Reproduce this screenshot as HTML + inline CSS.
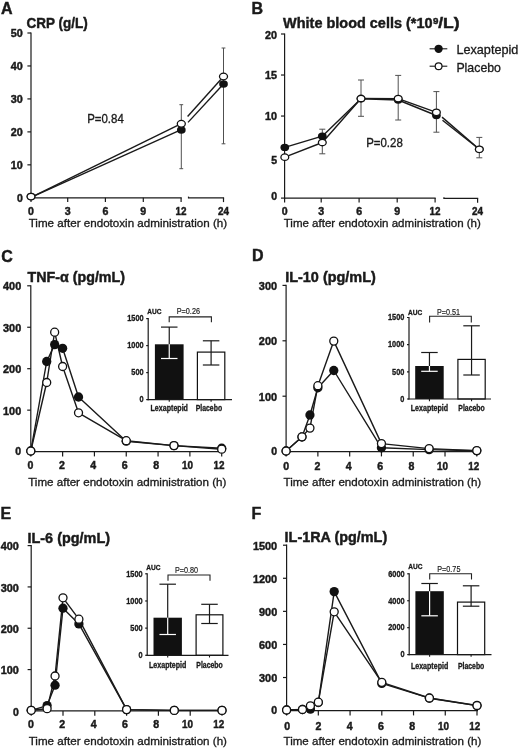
<!DOCTYPE html>
<html><head><meta charset="utf-8"><style>
html,body{margin:0;padding:0;background:#fff;}
svg{display:block;filter:grayscale(1);}
text{font-family:"Liberation Sans",sans-serif;}
</style></head><body>
<svg width="520" height="748" viewBox="0 0 520 748" font-family="Liberation Sans, sans-serif" fill="#1a1a1a">
<rect width="520" height="748" fill="#fff"/>
<text x="1.00" y="13.80" font-size="16" font-weight="bold" stroke="#1a1a1a" stroke-width="0.45">A</text>
<text x="26.60" y="28.20" font-size="14.6" font-weight="bold" textLength="61.20" lengthAdjust="spacingAndGlyphs" stroke="#1a1a1a" stroke-width="0.45">CRP (g/L)</text>
<line x1="31.00" y1="32.40" x2="31.00" y2="198.40" stroke="#1a1a1a" stroke-width="1.2"/>
<line x1="27.40" y1="197.80" x2="31.00" y2="197.80" stroke="#1a1a1a" stroke-width="1.2"/>
<text x="22.80" y="201.60" font-size="10.6" font-weight="bold" text-anchor="end" textLength="5.85" lengthAdjust="spacingAndGlyphs" stroke="#1a1a1a" stroke-width="0.45">0</text>
<line x1="27.40" y1="164.84" x2="31.00" y2="164.84" stroke="#1a1a1a" stroke-width="1.2"/>
<text x="22.80" y="168.64" font-size="10.6" font-weight="bold" text-anchor="end" textLength="12.00" lengthAdjust="spacingAndGlyphs" stroke="#1a1a1a" stroke-width="0.45">10</text>
<line x1="27.40" y1="131.88" x2="31.00" y2="131.88" stroke="#1a1a1a" stroke-width="1.2"/>
<text x="22.80" y="135.68" font-size="10.6" font-weight="bold" text-anchor="end" textLength="12.00" lengthAdjust="spacingAndGlyphs" stroke="#1a1a1a" stroke-width="0.45">20</text>
<line x1="27.40" y1="98.92" x2="31.00" y2="98.92" stroke="#1a1a1a" stroke-width="1.2"/>
<text x="22.80" y="102.72" font-size="10.6" font-weight="bold" text-anchor="end" textLength="12.00" lengthAdjust="spacingAndGlyphs" stroke="#1a1a1a" stroke-width="0.45">30</text>
<line x1="27.40" y1="65.96" x2="31.00" y2="65.96" stroke="#1a1a1a" stroke-width="1.2"/>
<text x="22.80" y="69.76" font-size="10.6" font-weight="bold" text-anchor="end" textLength="12.00" lengthAdjust="spacingAndGlyphs" stroke="#1a1a1a" stroke-width="0.45">40</text>
<line x1="27.40" y1="33.00" x2="31.00" y2="33.00" stroke="#1a1a1a" stroke-width="1.2"/>
<text x="22.80" y="36.80" font-size="10.6" font-weight="bold" text-anchor="end" textLength="12.00" lengthAdjust="spacingAndGlyphs" stroke="#1a1a1a" stroke-width="0.45">50</text>
<line x1="30.40" y1="197.80" x2="181.70" y2="197.80" stroke="#1a1a1a" stroke-width="1.2"/>
<line x1="31.00" y1="197.80" x2="31.00" y2="202.10" stroke="#1a1a1a" stroke-width="1.2"/>
<text x="31.00" y="214.60" font-size="10.6" font-weight="bold" text-anchor="middle" textLength="5.90" lengthAdjust="spacingAndGlyphs" stroke="#1a1a1a" stroke-width="0.45">0</text>
<line x1="67.70" y1="197.80" x2="67.70" y2="202.10" stroke="#1a1a1a" stroke-width="1.2"/>
<text x="67.70" y="214.60" font-size="10.6" font-weight="bold" text-anchor="middle" textLength="5.90" lengthAdjust="spacingAndGlyphs" stroke="#1a1a1a" stroke-width="0.45">3</text>
<line x1="105.40" y1="197.80" x2="105.40" y2="202.10" stroke="#1a1a1a" stroke-width="1.2"/>
<text x="105.40" y="214.60" font-size="10.6" font-weight="bold" text-anchor="middle" textLength="5.90" lengthAdjust="spacingAndGlyphs" stroke="#1a1a1a" stroke-width="0.45">6</text>
<line x1="143.30" y1="197.80" x2="143.30" y2="202.10" stroke="#1a1a1a" stroke-width="1.2"/>
<text x="143.30" y="214.60" font-size="10.6" font-weight="bold" text-anchor="middle" textLength="5.90" lengthAdjust="spacingAndGlyphs" stroke="#1a1a1a" stroke-width="0.45">9</text>
<line x1="181.10" y1="197.80" x2="181.10" y2="202.10" stroke="#1a1a1a" stroke-width="1.2"/>
<text x="181.10" y="214.60" font-size="10.6" font-weight="bold" text-anchor="middle" textLength="11.00" lengthAdjust="spacingAndGlyphs" stroke="#1a1a1a" stroke-width="0.45">12</text>
<line x1="188.50" y1="197.80" x2="224.10" y2="197.80" stroke="#1a1a1a" stroke-width="1.2"/>
<line x1="188.50" y1="196.60" x2="188.50" y2="198.40" stroke="#1a1a1a" stroke-width="1.2"/>
<line x1="223.50" y1="197.80" x2="223.50" y2="202.10" stroke="#1a1a1a" stroke-width="1.2"/>
<text x="223.50" y="214.60" font-size="10.6" font-weight="bold" text-anchor="middle" textLength="11.00" lengthAdjust="spacingAndGlyphs" stroke="#1a1a1a" stroke-width="0.45">24</text>
<text x="28.70" y="227.10" font-size="11.5" textLength="198.40" lengthAdjust="spacingAndGlyphs" stroke="#1a1a1a" stroke-width="0.32">Time after endotoxin administration (h)</text>
<text x="87.20" y="122.80" font-size="12" textLength="36.60" lengthAdjust="spacingAndGlyphs" stroke="#1a1a1a" stroke-width="0.32">P=0.84</text>
<line x1="181.30" y1="104.70" x2="181.30" y2="168.70" stroke="#505050" stroke-width="1.0"/>
<line x1="179.40" y1="104.70" x2="183.20" y2="104.70" stroke="#505050" stroke-width="1.0"/>
<line x1="179.40" y1="168.70" x2="183.20" y2="168.70" stroke="#505050" stroke-width="1.0"/>
<line x1="223.50" y1="48.00" x2="223.50" y2="143.80" stroke="#505050" stroke-width="1.0"/>
<line x1="221.60" y1="48.00" x2="225.40" y2="48.00" stroke="#505050" stroke-width="1.0"/>
<line x1="221.60" y1="143.80" x2="225.40" y2="143.80" stroke="#505050" stroke-width="1.0"/>
<polyline points="31.00,197.30 181.30,129.60" fill="none" stroke="#1a1a1a" stroke-width="1.4" stroke-linejoin="round"/>
<polyline points="31.00,197.30 181.30,123.60" fill="none" stroke="#1a1a1a" stroke-width="1.4" stroke-linejoin="round"/>
<polyline points="188.00,122.38 223.50,84.10" fill="none" stroke="#1a1a1a" stroke-width="1.4" stroke-linejoin="round"/>
<polyline points="187.60,116.57 223.50,76.50" fill="none" stroke="#1a1a1a" stroke-width="1.4" stroke-linejoin="round"/>
<ellipse cx="31.00" cy="196.60" rx="4.35" ry="3.75" fill="#111"/>
<ellipse cx="181.30" cy="130.00" rx="4.35" ry="3.75" fill="#111"/>
<ellipse cx="223.50" cy="84.10" rx="4.35" ry="3.75" fill="#111"/>
<ellipse cx="31.00" cy="196.60" rx="3.90" ry="3.30" fill="#fff" stroke="#111" stroke-width="1.3"/>
<ellipse cx="181.30" cy="123.80" rx="4.00" ry="3.35" fill="#fff" stroke="#111" stroke-width="1.3"/>
<ellipse cx="223.50" cy="76.50" rx="4.00" ry="3.35" fill="#fff" stroke="#111" stroke-width="1.3"/>
<text x="251.40" y="13.60" font-size="16" font-weight="bold" stroke="#1a1a1a" stroke-width="0.45">B</text>
<text x="283.10" y="28.00" font-size="14.6" font-weight="bold" textLength="149.40" lengthAdjust="spacingAndGlyphs" stroke="#1a1a1a" stroke-width="0.45">White blood cells (*10</text>
<text x="433.10" y="24.00" font-size="9.6" font-weight="bold" textLength="5.40" lengthAdjust="spacingAndGlyphs" stroke="#1a1a1a" stroke-width="0.45">9</text>
<text x="438.20" y="28.00" font-size="14.6" font-weight="bold" textLength="21.40" lengthAdjust="spacingAndGlyphs" stroke="#1a1a1a" stroke-width="0.45">/L)</text>
<line x1="284.60" y1="33.40" x2="284.60" y2="198.70" stroke="#1a1a1a" stroke-width="1.2"/>
<line x1="281.00" y1="198.10" x2="284.60" y2="198.10" stroke="#1a1a1a" stroke-width="1.2"/>
<text x="277.10" y="200.20" font-size="10.6" font-weight="bold" text-anchor="end" textLength="5.85" lengthAdjust="spacingAndGlyphs" stroke="#1a1a1a" stroke-width="0.45">0</text>
<line x1="281.00" y1="157.07" x2="284.60" y2="157.07" stroke="#1a1a1a" stroke-width="1.2"/>
<text x="277.10" y="164.47" font-size="10.6" font-weight="bold" text-anchor="end" textLength="5.85" lengthAdjust="spacingAndGlyphs" stroke="#1a1a1a" stroke-width="0.45">5</text>
<line x1="281.00" y1="116.05" x2="284.60" y2="116.05" stroke="#1a1a1a" stroke-width="1.2"/>
<text x="277.10" y="119.85" font-size="10.6" font-weight="bold" text-anchor="end" textLength="12.00" lengthAdjust="spacingAndGlyphs" stroke="#1a1a1a" stroke-width="0.45">10</text>
<line x1="281.00" y1="75.02" x2="284.60" y2="75.02" stroke="#1a1a1a" stroke-width="1.2"/>
<text x="277.10" y="78.82" font-size="10.6" font-weight="bold" text-anchor="end" textLength="12.00" lengthAdjust="spacingAndGlyphs" stroke="#1a1a1a" stroke-width="0.45">15</text>
<line x1="281.00" y1="34.00" x2="284.60" y2="34.00" stroke="#1a1a1a" stroke-width="1.2"/>
<text x="277.10" y="38.50" font-size="10.6" font-weight="bold" text-anchor="end" textLength="12.00" lengthAdjust="spacingAndGlyphs" stroke="#1a1a1a" stroke-width="0.45">20</text>
<line x1="284.00" y1="198.10" x2="435.70" y2="198.10" stroke="#1a1a1a" stroke-width="1.2"/>
<line x1="284.60" y1="198.10" x2="284.60" y2="202.40" stroke="#1a1a1a" stroke-width="1.2"/>
<text x="284.60" y="214.60" font-size="10.6" font-weight="bold" text-anchor="middle" textLength="5.90" lengthAdjust="spacingAndGlyphs" stroke="#1a1a1a" stroke-width="0.45">0</text>
<line x1="321.20" y1="198.10" x2="321.20" y2="202.40" stroke="#1a1a1a" stroke-width="1.2"/>
<text x="321.20" y="214.60" font-size="10.6" font-weight="bold" text-anchor="middle" textLength="5.90" lengthAdjust="spacingAndGlyphs" stroke="#1a1a1a" stroke-width="0.45">3</text>
<line x1="359.10" y1="198.10" x2="359.10" y2="202.40" stroke="#1a1a1a" stroke-width="1.2"/>
<text x="359.10" y="214.60" font-size="10.6" font-weight="bold" text-anchor="middle" textLength="5.90" lengthAdjust="spacingAndGlyphs" stroke="#1a1a1a" stroke-width="0.45">6</text>
<line x1="397.20" y1="198.10" x2="397.20" y2="202.40" stroke="#1a1a1a" stroke-width="1.2"/>
<text x="397.20" y="214.60" font-size="10.6" font-weight="bold" text-anchor="middle" textLength="5.90" lengthAdjust="spacingAndGlyphs" stroke="#1a1a1a" stroke-width="0.45">9</text>
<line x1="435.10" y1="198.10" x2="435.10" y2="202.40" stroke="#1a1a1a" stroke-width="1.2"/>
<text x="435.10" y="214.60" font-size="10.6" font-weight="bold" text-anchor="middle" textLength="11.00" lengthAdjust="spacingAndGlyphs" stroke="#1a1a1a" stroke-width="0.45">12</text>
<line x1="443.90" y1="198.40" x2="478.20" y2="198.40" stroke="#1a1a1a" stroke-width="1.2"/>
<line x1="443.90" y1="197.20" x2="443.90" y2="199.00" stroke="#1a1a1a" stroke-width="1.2"/>
<line x1="477.60" y1="198.40" x2="477.60" y2="202.70" stroke="#1a1a1a" stroke-width="1.2"/>
<text x="477.60" y="214.60" font-size="10.6" font-weight="bold" text-anchor="middle" textLength="11.00" lengthAdjust="spacingAndGlyphs" stroke="#1a1a1a" stroke-width="0.45">24</text>
<text x="283.70" y="227.10" font-size="11.5" textLength="197.20" lengthAdjust="spacingAndGlyphs" stroke="#1a1a1a" stroke-width="0.32">Time after endotoxin administration (h)</text>
<text x="366.20" y="147.00" font-size="12" textLength="36.60" lengthAdjust="spacingAndGlyphs" stroke="#1a1a1a" stroke-width="0.32">P=0.28</text>
<line x1="322.30" y1="129.20" x2="322.30" y2="153.80" stroke="#505050" stroke-width="1.0"/>
<line x1="319.30" y1="129.20" x2="325.30" y2="129.20" stroke="#505050" stroke-width="1.0"/>
<line x1="319.30" y1="153.80" x2="325.30" y2="153.80" stroke="#505050" stroke-width="1.0"/>
<line x1="361.00" y1="80.00" x2="361.00" y2="116.30" stroke="#505050" stroke-width="1.0"/>
<line x1="358.00" y1="80.00" x2="364.00" y2="80.00" stroke="#505050" stroke-width="1.0"/>
<line x1="358.00" y1="116.30" x2="364.00" y2="116.30" stroke="#505050" stroke-width="1.0"/>
<line x1="398.20" y1="75.40" x2="398.20" y2="120.00" stroke="#505050" stroke-width="1.0"/>
<line x1="395.20" y1="75.40" x2="401.20" y2="75.40" stroke="#505050" stroke-width="1.0"/>
<line x1="395.20" y1="120.00" x2="401.20" y2="120.00" stroke="#505050" stroke-width="1.0"/>
<line x1="436.40" y1="91.60" x2="436.40" y2="132.20" stroke="#505050" stroke-width="1.0"/>
<line x1="433.40" y1="91.60" x2="439.40" y2="91.60" stroke="#505050" stroke-width="1.0"/>
<line x1="433.40" y1="132.20" x2="439.40" y2="132.20" stroke="#505050" stroke-width="1.0"/>
<line x1="479.30" y1="137.40" x2="479.30" y2="157.80" stroke="#505050" stroke-width="1.0"/>
<line x1="476.30" y1="137.40" x2="482.30" y2="137.40" stroke="#505050" stroke-width="1.0"/>
<line x1="476.30" y1="157.80" x2="482.30" y2="157.80" stroke="#505050" stroke-width="1.0"/>
<polyline points="284.80,147.40 322.30,136.20 361.00,98.80 398.20,100.00 436.40,115.50" fill="none" stroke="#1a1a1a" stroke-width="1.4" stroke-linejoin="round"/>
<polyline points="284.80,157.20 322.30,142.50 361.00,98.50 398.20,98.60 436.40,112.30" fill="none" stroke="#1a1a1a" stroke-width="1.4" stroke-linejoin="round"/>
<polyline points="442.50,120.31 479.30,149.30" fill="none" stroke="#1a1a1a" stroke-width="1.4" stroke-linejoin="round"/>
<polyline points="442.00,117.13 479.30,149.30" fill="none" stroke="#1a1a1a" stroke-width="1.4" stroke-linejoin="round"/>
<ellipse cx="284.80" cy="147.40" rx="4.35" ry="3.65" fill="#111"/>
<ellipse cx="322.30" cy="136.20" rx="4.35" ry="3.65" fill="#111"/>
<ellipse cx="361.00" cy="98.80" rx="4.35" ry="3.65" fill="#111"/>
<ellipse cx="398.20" cy="100.00" rx="4.35" ry="3.65" fill="#111"/>
<ellipse cx="436.40" cy="115.50" rx="4.35" ry="3.65" fill="#111"/>
<ellipse cx="479.30" cy="149.30" rx="4.35" ry="3.65" fill="#111"/>
<ellipse cx="284.80" cy="157.20" rx="3.90" ry="3.25" fill="#fff" stroke="#111" stroke-width="1.3"/>
<ellipse cx="322.30" cy="142.50" rx="3.90" ry="3.25" fill="#fff" stroke="#111" stroke-width="1.3"/>
<ellipse cx="361.00" cy="98.50" rx="3.90" ry="3.25" fill="#fff" stroke="#111" stroke-width="1.3"/>
<ellipse cx="398.20" cy="98.60" rx="3.90" ry="3.25" fill="#fff" stroke="#111" stroke-width="1.3"/>
<ellipse cx="436.40" cy="112.30" rx="3.90" ry="3.25" fill="#fff" stroke="#111" stroke-width="1.3"/>
<ellipse cx="479.30" cy="149.30" rx="3.90" ry="3.25" fill="#fff" stroke="#111" stroke-width="1.3"/>
<line x1="429.60" y1="48.80" x2="447.30" y2="48.80" stroke="#1a1a1a" stroke-width="1.1"/>
<line x1="429.60" y1="66.20" x2="447.30" y2="66.20" stroke="#1a1a1a" stroke-width="1.1"/>
<circle cx="438.60" cy="48.80" r="4.15" fill="#111"/>
<circle cx="438.60" cy="66.20" r="3.40" fill="#fff" stroke="#111" stroke-width="1.2"/>
<text x="456.40" y="53.90" font-size="12.9" textLength="62.00" lengthAdjust="spacingAndGlyphs" stroke="#1a1a1a" stroke-width="0.32">Lexaptepid</text>
<text x="456.40" y="71.60" font-size="12.9" textLength="44.60" lengthAdjust="spacingAndGlyphs" stroke="#1a1a1a" stroke-width="0.32">Placebo</text>
<text x="1.20" y="261.60" font-size="16" font-weight="bold" stroke="#1a1a1a" stroke-width="0.45">C</text>
<text x="27.60" y="281.70" font-size="14.6" font-weight="bold" textLength="97.40" lengthAdjust="spacingAndGlyphs" stroke="#1a1a1a" stroke-width="0.45">TNF-α (pg/mL)</text>
<line x1="30.80" y1="285.20" x2="30.80" y2="452.20" stroke="#1a1a1a" stroke-width="1.2"/>
<line x1="27.20" y1="451.60" x2="30.80" y2="451.60" stroke="#1a1a1a" stroke-width="1.2"/>
<text x="21.20" y="455.40" font-size="10.6" font-weight="bold" text-anchor="end" textLength="5.85" lengthAdjust="spacingAndGlyphs" stroke="#1a1a1a" stroke-width="0.45">0</text>
<line x1="27.20" y1="410.15" x2="30.80" y2="410.15" stroke="#1a1a1a" stroke-width="1.2"/>
<text x="21.20" y="414.75" font-size="10.6" font-weight="bold" text-anchor="end" textLength="18.15" lengthAdjust="spacingAndGlyphs" stroke="#1a1a1a" stroke-width="0.45">100</text>
<line x1="27.20" y1="368.70" x2="30.80" y2="368.70" stroke="#1a1a1a" stroke-width="1.2"/>
<text x="21.20" y="373.30" font-size="10.6" font-weight="bold" text-anchor="end" textLength="18.15" lengthAdjust="spacingAndGlyphs" stroke="#1a1a1a" stroke-width="0.45">200</text>
<line x1="27.20" y1="327.25" x2="30.80" y2="327.25" stroke="#1a1a1a" stroke-width="1.2"/>
<text x="21.20" y="331.85" font-size="10.6" font-weight="bold" text-anchor="end" textLength="18.15" lengthAdjust="spacingAndGlyphs" stroke="#1a1a1a" stroke-width="0.45">300</text>
<line x1="27.20" y1="285.80" x2="30.80" y2="285.80" stroke="#1a1a1a" stroke-width="1.2"/>
<text x="21.20" y="290.40" font-size="10.6" font-weight="bold" text-anchor="end" textLength="18.15" lengthAdjust="spacingAndGlyphs" stroke="#1a1a1a" stroke-width="0.45">400</text>
<line x1="30.20" y1="451.60" x2="222.70" y2="451.60" stroke="#1a1a1a" stroke-width="1.2"/>
<line x1="30.80" y1="451.60" x2="30.80" y2="456.40" stroke="#1a1a1a" stroke-width="1.2"/>
<text x="30.50" y="469.40" font-size="10.6" font-weight="bold" text-anchor="middle" textLength="5.90" lengthAdjust="spacingAndGlyphs" stroke="#1a1a1a" stroke-width="0.45">0</text>
<line x1="62.62" y1="451.60" x2="62.62" y2="456.40" stroke="#1a1a1a" stroke-width="1.2"/>
<text x="61.90" y="469.40" font-size="10.6" font-weight="bold" text-anchor="middle" textLength="5.90" lengthAdjust="spacingAndGlyphs" stroke="#1a1a1a" stroke-width="0.45">2</text>
<line x1="94.43" y1="451.60" x2="94.43" y2="456.40" stroke="#1a1a1a" stroke-width="1.2"/>
<text x="93.30" y="469.40" font-size="10.6" font-weight="bold" text-anchor="middle" textLength="5.90" lengthAdjust="spacingAndGlyphs" stroke="#1a1a1a" stroke-width="0.45">4</text>
<line x1="126.25" y1="451.60" x2="126.25" y2="456.40" stroke="#1a1a1a" stroke-width="1.2"/>
<text x="124.70" y="469.40" font-size="10.6" font-weight="bold" text-anchor="middle" textLength="5.90" lengthAdjust="spacingAndGlyphs" stroke="#1a1a1a" stroke-width="0.45">6</text>
<line x1="158.07" y1="451.60" x2="158.07" y2="456.40" stroke="#1a1a1a" stroke-width="1.2"/>
<text x="156.10" y="469.40" font-size="10.6" font-weight="bold" text-anchor="middle" textLength="5.90" lengthAdjust="spacingAndGlyphs" stroke="#1a1a1a" stroke-width="0.45">8</text>
<line x1="189.88" y1="451.60" x2="189.88" y2="456.40" stroke="#1a1a1a" stroke-width="1.2"/>
<text x="187.50" y="469.40" font-size="10.6" font-weight="bold" text-anchor="middle" textLength="11.00" lengthAdjust="spacingAndGlyphs" stroke="#1a1a1a" stroke-width="0.45">10</text>
<line x1="221.70" y1="451.60" x2="221.70" y2="456.40" stroke="#1a1a1a" stroke-width="1.2"/>
<text x="218.90" y="469.40" font-size="10.6" font-weight="bold" text-anchor="middle" textLength="11.00" lengthAdjust="spacingAndGlyphs" stroke="#1a1a1a" stroke-width="0.45">12</text>
<text x="28.20" y="485.80" font-size="11.5" textLength="198.20" lengthAdjust="spacingAndGlyphs" stroke="#1a1a1a" stroke-width="0.32">Time after endotoxin administration (h)</text>
<polyline points="30.80,451.00 46.71,361.50 54.66,344.60 62.62,348.30 78.52,397.00 126.25,441.20 173.97,445.60 221.70,448.20" fill="none" stroke="#1a1a1a" stroke-width="1.4" stroke-linejoin="round"/>
<polyline points="30.80,451.00 46.71,382.50 54.66,332.20 62.62,366.50 78.52,412.80 126.25,440.70 173.97,445.60 221.70,449.20" fill="none" stroke="#1a1a1a" stroke-width="1.4" stroke-linejoin="round"/>
<circle cx="30.80" cy="451.00" r="4.65" fill="#111"/>
<circle cx="46.71" cy="361.50" r="4.65" fill="#111"/>
<circle cx="54.66" cy="344.60" r="4.65" fill="#111"/>
<circle cx="62.62" cy="348.30" r="4.65" fill="#111"/>
<circle cx="78.52" cy="397.00" r="4.65" fill="#111"/>
<circle cx="126.25" cy="441.20" r="4.65" fill="#111"/>
<circle cx="173.97" cy="445.60" r="4.65" fill="#111"/>
<circle cx="221.70" cy="448.20" r="4.65" fill="#111"/>
<circle cx="30.80" cy="451.00" r="4.00" fill="#fff" stroke="#111" stroke-width="1.3"/>
<circle cx="46.71" cy="382.50" r="4.00" fill="#fff" stroke="#111" stroke-width="1.3"/>
<circle cx="54.66" cy="332.20" r="4.00" fill="#fff" stroke="#111" stroke-width="1.3"/>
<circle cx="62.62" cy="366.50" r="4.00" fill="#fff" stroke="#111" stroke-width="1.3"/>
<circle cx="78.52" cy="412.80" r="4.00" fill="#fff" stroke="#111" stroke-width="1.3"/>
<circle cx="126.25" cy="440.70" r="4.00" fill="#fff" stroke="#111" stroke-width="1.3"/>
<circle cx="173.97" cy="445.60" r="4.00" fill="#fff" stroke="#111" stroke-width="1.3"/>
<circle cx="221.70" cy="449.20" r="4.00" fill="#fff" stroke="#111" stroke-width="1.3"/>
<rect x="154.90" y="344.30" width="28.70" height="55.30" fill="#111"/>
<rect x="197.40" y="352.10" width="27.40" height="47.50" fill="#fff" stroke="#111" stroke-width="1.2"/>
<line x1="169.25" y1="327.10" x2="169.25" y2="344.30" stroke="#1a1a1a" stroke-width="1.2"/>
<line x1="161.00" y1="327.10" x2="177.50" y2="327.10" stroke="#1a1a1a" stroke-width="1.2"/>
<line x1="169.25" y1="344.30" x2="169.25" y2="358.50" stroke="#fff" stroke-width="1.2"/>
<line x1="161.00" y1="358.50" x2="177.50" y2="358.50" stroke="#fff" stroke-width="1.2"/>
<line x1="211.10" y1="340.80" x2="211.10" y2="365.00" stroke="#1a1a1a" stroke-width="1.2"/>
<line x1="202.85" y1="340.80" x2="219.35" y2="340.80" stroke="#1a1a1a" stroke-width="1.2"/>
<line x1="202.85" y1="365.00" x2="219.35" y2="365.00" stroke="#1a1a1a" stroke-width="1.2"/>
<line x1="148.20" y1="318.00" x2="148.20" y2="400.20" stroke="#1a1a1a" stroke-width="1.2"/>
<line x1="146.20" y1="399.60" x2="148.20" y2="399.60" stroke="#1a1a1a" stroke-width="1.2"/>
<text x="143.60" y="402.40" font-size="8.6" font-weight="bold" text-anchor="end" textLength="4.10" lengthAdjust="spacingAndGlyphs" stroke="#1a1a1a" stroke-width="0.32">0</text>
<line x1="146.20" y1="372.60" x2="148.20" y2="372.60" stroke="#1a1a1a" stroke-width="1.2"/>
<text x="143.60" y="375.40" font-size="8.6" font-weight="bold" text-anchor="end" textLength="12.30" lengthAdjust="spacingAndGlyphs" stroke="#1a1a1a" stroke-width="0.32">500</text>
<line x1="146.20" y1="345.60" x2="148.20" y2="345.60" stroke="#1a1a1a" stroke-width="1.2"/>
<text x="143.60" y="348.40" font-size="8.6" font-weight="bold" text-anchor="end" textLength="16.40" lengthAdjust="spacingAndGlyphs" stroke="#1a1a1a" stroke-width="0.32">1000</text>
<line x1="146.20" y1="318.60" x2="148.20" y2="318.60" stroke="#1a1a1a" stroke-width="1.2"/>
<text x="143.60" y="321.40" font-size="8.6" font-weight="bold" text-anchor="end" textLength="16.40" lengthAdjust="spacingAndGlyphs" stroke="#1a1a1a" stroke-width="0.32">1500</text>
<line x1="147.60" y1="399.60" x2="232.00" y2="399.60" stroke="#1a1a1a" stroke-width="1.2"/>
<line x1="169.25" y1="399.60" x2="169.25" y2="401.80" stroke="#1a1a1a" stroke-width="1.1"/>
<line x1="211.10" y1="399.60" x2="211.10" y2="401.80" stroke="#1a1a1a" stroke-width="1.1"/>
<text x="147.20" y="314.40" font-size="7.8" font-weight="bold" textLength="14.20" lengthAdjust="spacingAndGlyphs" stroke="#1a1a1a" stroke-width="0.32">AUC</text>
<text x="176.70" y="314.40" font-size="8.4" textLength="23.30" lengthAdjust="spacingAndGlyphs" fill="#222" stroke="#222" stroke-width="0.18">P=0.26</text>
<path d="M169.20,322.20 V316.90 H211.40 V322.20" fill="none" stroke="#222" stroke-width="1.1"/>
<text x="169.25" y="411.20" font-size="8.6" font-weight="bold" text-anchor="middle" textLength="37.40" lengthAdjust="spacingAndGlyphs" stroke="#1a1a1a" stroke-width="0.32">Lexaptepid</text>
<text x="208.90" y="411.20" font-size="8.6" font-weight="bold" text-anchor="middle" textLength="26.40" lengthAdjust="spacingAndGlyphs" stroke="#1a1a1a" stroke-width="0.32">Placebo</text>
<text x="251.90" y="260.80" font-size="16" font-weight="bold" stroke="#1a1a1a" stroke-width="0.45">D</text>
<text x="285.20" y="282.00" font-size="14.6" font-weight="bold" textLength="90.60" lengthAdjust="spacingAndGlyphs" stroke="#1a1a1a" stroke-width="0.45">IL-10 (pg/mL)</text>
<line x1="286.10" y1="284.80" x2="286.10" y2="452.20" stroke="#1a1a1a" stroke-width="1.2"/>
<line x1="282.50" y1="451.60" x2="286.10" y2="451.60" stroke="#1a1a1a" stroke-width="1.2"/>
<text x="277.00" y="454.50" font-size="10.6" font-weight="bold" text-anchor="end" textLength="5.85" lengthAdjust="spacingAndGlyphs" stroke="#1a1a1a" stroke-width="0.45">0</text>
<line x1="282.50" y1="396.20" x2="286.10" y2="396.20" stroke="#1a1a1a" stroke-width="1.2"/>
<text x="277.00" y="400.80" font-size="10.6" font-weight="bold" text-anchor="end" textLength="18.15" lengthAdjust="spacingAndGlyphs" stroke="#1a1a1a" stroke-width="0.45">100</text>
<line x1="282.50" y1="340.80" x2="286.10" y2="340.80" stroke="#1a1a1a" stroke-width="1.2"/>
<text x="277.00" y="345.40" font-size="10.6" font-weight="bold" text-anchor="end" textLength="18.15" lengthAdjust="spacingAndGlyphs" stroke="#1a1a1a" stroke-width="0.45">200</text>
<line x1="282.50" y1="285.40" x2="286.10" y2="285.40" stroke="#1a1a1a" stroke-width="1.2"/>
<text x="277.00" y="290.00" font-size="10.6" font-weight="bold" text-anchor="end" textLength="18.15" lengthAdjust="spacingAndGlyphs" stroke="#1a1a1a" stroke-width="0.45">300</text>
<line x1="285.50" y1="451.60" x2="477.80" y2="451.60" stroke="#1a1a1a" stroke-width="1.2"/>
<line x1="286.10" y1="451.60" x2="286.10" y2="456.40" stroke="#1a1a1a" stroke-width="1.2"/>
<text x="286.30" y="469.60" font-size="10.6" font-weight="bold" text-anchor="middle" textLength="5.90" lengthAdjust="spacingAndGlyphs" stroke="#1a1a1a" stroke-width="0.45">0</text>
<line x1="317.88" y1="451.60" x2="317.88" y2="456.40" stroke="#1a1a1a" stroke-width="1.2"/>
<text x="317.56" y="469.60" font-size="10.6" font-weight="bold" text-anchor="middle" textLength="5.90" lengthAdjust="spacingAndGlyphs" stroke="#1a1a1a" stroke-width="0.45">2</text>
<line x1="349.67" y1="451.60" x2="349.67" y2="456.40" stroke="#1a1a1a" stroke-width="1.2"/>
<text x="348.82" y="469.60" font-size="10.6" font-weight="bold" text-anchor="middle" textLength="5.90" lengthAdjust="spacingAndGlyphs" stroke="#1a1a1a" stroke-width="0.45">4</text>
<line x1="381.45" y1="451.60" x2="381.45" y2="456.40" stroke="#1a1a1a" stroke-width="1.2"/>
<text x="380.08" y="469.60" font-size="10.6" font-weight="bold" text-anchor="middle" textLength="5.90" lengthAdjust="spacingAndGlyphs" stroke="#1a1a1a" stroke-width="0.45">6</text>
<line x1="413.23" y1="451.60" x2="413.23" y2="456.40" stroke="#1a1a1a" stroke-width="1.2"/>
<text x="411.34" y="469.60" font-size="10.6" font-weight="bold" text-anchor="middle" textLength="5.90" lengthAdjust="spacingAndGlyphs" stroke="#1a1a1a" stroke-width="0.45">8</text>
<line x1="445.02" y1="451.60" x2="445.02" y2="456.40" stroke="#1a1a1a" stroke-width="1.2"/>
<text x="442.60" y="469.60" font-size="10.6" font-weight="bold" text-anchor="middle" textLength="11.00" lengthAdjust="spacingAndGlyphs" stroke="#1a1a1a" stroke-width="0.45">10</text>
<line x1="476.80" y1="451.60" x2="476.80" y2="456.40" stroke="#1a1a1a" stroke-width="1.2"/>
<text x="473.86" y="469.60" font-size="10.6" font-weight="bold" text-anchor="middle" textLength="11.00" lengthAdjust="spacingAndGlyphs" stroke="#1a1a1a" stroke-width="0.45">12</text>
<text x="283.50" y="485.80" font-size="11.5" textLength="197.70" lengthAdjust="spacingAndGlyphs" stroke="#1a1a1a" stroke-width="0.32">Time after endotoxin administration (h)</text>
<polyline points="286.10,451.00 301.99,437.00 309.94,415.00 317.88,387.80 333.78,370.50 381.45,447.80 429.12,449.60 476.80,450.80" fill="none" stroke="#1a1a1a" stroke-width="1.4" stroke-linejoin="round"/>
<polyline points="286.10,451.00 301.99,436.80 309.94,428.10 317.88,385.70 333.78,341.10 381.45,443.60 429.12,448.60 476.80,450.60" fill="none" stroke="#1a1a1a" stroke-width="1.4" stroke-linejoin="round"/>
<circle cx="286.10" cy="451.00" r="4.65" fill="#111"/>
<circle cx="301.99" cy="437.00" r="4.65" fill="#111"/>
<circle cx="309.94" cy="415.00" r="4.65" fill="#111"/>
<circle cx="317.88" cy="387.80" r="4.65" fill="#111"/>
<circle cx="333.78" cy="370.50" r="4.65" fill="#111"/>
<circle cx="381.45" cy="447.80" r="4.65" fill="#111"/>
<circle cx="429.12" cy="449.60" r="4.65" fill="#111"/>
<circle cx="476.80" cy="450.80" r="4.65" fill="#111"/>
<circle cx="286.10" cy="451.00" r="4.00" fill="#fff" stroke="#111" stroke-width="1.3"/>
<circle cx="301.99" cy="436.80" r="4.00" fill="#fff" stroke="#111" stroke-width="1.3"/>
<circle cx="309.94" cy="428.10" r="4.00" fill="#fff" stroke="#111" stroke-width="1.3"/>
<circle cx="317.88" cy="385.70" r="4.00" fill="#fff" stroke="#111" stroke-width="1.3"/>
<circle cx="333.78" cy="341.10" r="4.00" fill="#fff" stroke="#111" stroke-width="1.3"/>
<circle cx="381.45" cy="443.60" r="4.00" fill="#fff" stroke="#111" stroke-width="1.3"/>
<circle cx="429.12" cy="448.60" r="4.00" fill="#fff" stroke="#111" stroke-width="1.3"/>
<circle cx="476.80" cy="450.60" r="4.00" fill="#fff" stroke="#111" stroke-width="1.3"/>
<rect x="415.20" y="366.00" width="28.50" height="33.00" fill="#111"/>
<rect x="457.90" y="359.40" width="27.30" height="39.60" fill="#fff" stroke="#111" stroke-width="1.2"/>
<line x1="429.45" y1="352.50" x2="429.45" y2="366.00" stroke="#1a1a1a" stroke-width="1.2"/>
<line x1="421.20" y1="352.50" x2="437.70" y2="352.50" stroke="#1a1a1a" stroke-width="1.2"/>
<line x1="429.45" y1="366.00" x2="429.45" y2="371.30" stroke="#fff" stroke-width="1.2"/>
<line x1="421.20" y1="371.30" x2="437.70" y2="371.30" stroke="#fff" stroke-width="1.2"/>
<line x1="471.55" y1="325.80" x2="471.55" y2="375.00" stroke="#1a1a1a" stroke-width="1.2"/>
<line x1="463.30" y1="325.80" x2="479.80" y2="325.80" stroke="#1a1a1a" stroke-width="1.2"/>
<line x1="463.30" y1="375.00" x2="479.80" y2="375.00" stroke="#1a1a1a" stroke-width="1.2"/>
<line x1="409.00" y1="316.90" x2="409.00" y2="399.60" stroke="#1a1a1a" stroke-width="1.2"/>
<line x1="407.00" y1="399.00" x2="409.00" y2="399.00" stroke="#1a1a1a" stroke-width="1.2"/>
<text x="404.40" y="401.80" font-size="8.6" font-weight="bold" text-anchor="end" textLength="4.10" lengthAdjust="spacingAndGlyphs" stroke="#1a1a1a" stroke-width="0.32">0</text>
<line x1="407.00" y1="371.83" x2="409.00" y2="371.83" stroke="#1a1a1a" stroke-width="1.2"/>
<text x="404.40" y="374.63" font-size="8.6" font-weight="bold" text-anchor="end" textLength="12.30" lengthAdjust="spacingAndGlyphs" stroke="#1a1a1a" stroke-width="0.32">500</text>
<line x1="407.00" y1="344.67" x2="409.00" y2="344.67" stroke="#1a1a1a" stroke-width="1.2"/>
<text x="404.40" y="347.47" font-size="8.6" font-weight="bold" text-anchor="end" textLength="16.40" lengthAdjust="spacingAndGlyphs" stroke="#1a1a1a" stroke-width="0.32">1000</text>
<line x1="407.00" y1="317.50" x2="409.00" y2="317.50" stroke="#1a1a1a" stroke-width="1.2"/>
<text x="404.40" y="320.30" font-size="8.6" font-weight="bold" text-anchor="end" textLength="16.40" lengthAdjust="spacingAndGlyphs" stroke="#1a1a1a" stroke-width="0.32">1500</text>
<line x1="408.40" y1="399.00" x2="491.00" y2="399.00" stroke="#1a1a1a" stroke-width="1.2"/>
<line x1="429.45" y1="399.00" x2="429.45" y2="401.20" stroke="#1a1a1a" stroke-width="1.1"/>
<line x1="471.55" y1="399.00" x2="471.55" y2="401.20" stroke="#1a1a1a" stroke-width="1.1"/>
<text x="408.00" y="314.50" font-size="7.8" font-weight="bold" textLength="14.20" lengthAdjust="spacingAndGlyphs" stroke="#1a1a1a" stroke-width="0.32">AUC</text>
<text x="437.00" y="314.50" font-size="8.4" textLength="23.00" lengthAdjust="spacingAndGlyphs" fill="#222" stroke="#222" stroke-width="0.18">P=0.51</text>
<path d="M429.60,322.50 V316.30 H471.30 V322.50" fill="none" stroke="#222" stroke-width="1.1"/>
<text x="429.45" y="411.30" font-size="8.6" font-weight="bold" text-anchor="middle" textLength="37.40" lengthAdjust="spacingAndGlyphs" stroke="#1a1a1a" stroke-width="0.32">Lexaptepid</text>
<text x="471.55" y="411.30" font-size="8.6" font-weight="bold" text-anchor="middle" textLength="26.40" lengthAdjust="spacingAndGlyphs" stroke="#1a1a1a" stroke-width="0.32">Placebo</text>
<text x="0.60" y="518.80" font-size="16" font-weight="bold" stroke="#1a1a1a" stroke-width="0.45">E</text>
<text x="27.50" y="542.50" font-size="14.6" font-weight="bold" textLength="82.50" lengthAdjust="spacingAndGlyphs" stroke="#1a1a1a" stroke-width="0.45">IL-6 (pg/mL)</text>
<line x1="31.20" y1="545.00" x2="31.20" y2="711.50" stroke="#1a1a1a" stroke-width="1.2"/>
<line x1="27.60" y1="710.90" x2="31.20" y2="710.90" stroke="#1a1a1a" stroke-width="1.2"/>
<text x="18.80" y="715.50" font-size="10.6" font-weight="bold" text-anchor="end" textLength="5.85" lengthAdjust="spacingAndGlyphs" stroke="#1a1a1a" stroke-width="0.45">0</text>
<line x1="27.60" y1="669.58" x2="31.20" y2="669.58" stroke="#1a1a1a" stroke-width="1.2"/>
<text x="18.80" y="674.18" font-size="10.6" font-weight="bold" text-anchor="end" textLength="18.15" lengthAdjust="spacingAndGlyphs" stroke="#1a1a1a" stroke-width="0.45">100</text>
<line x1="27.60" y1="628.25" x2="31.20" y2="628.25" stroke="#1a1a1a" stroke-width="1.2"/>
<text x="18.80" y="632.85" font-size="10.6" font-weight="bold" text-anchor="end" textLength="18.15" lengthAdjust="spacingAndGlyphs" stroke="#1a1a1a" stroke-width="0.45">200</text>
<line x1="27.60" y1="586.92" x2="31.20" y2="586.92" stroke="#1a1a1a" stroke-width="1.2"/>
<text x="18.80" y="591.52" font-size="10.6" font-weight="bold" text-anchor="end" textLength="18.15" lengthAdjust="spacingAndGlyphs" stroke="#1a1a1a" stroke-width="0.45">300</text>
<line x1="27.60" y1="545.60" x2="31.20" y2="545.60" stroke="#1a1a1a" stroke-width="1.2"/>
<text x="18.80" y="550.20" font-size="10.6" font-weight="bold" text-anchor="end" textLength="18.15" lengthAdjust="spacingAndGlyphs" stroke="#1a1a1a" stroke-width="0.45">400</text>
<line x1="30.60" y1="710.90" x2="223.00" y2="710.90" stroke="#1a1a1a" stroke-width="1.2"/>
<line x1="31.20" y1="710.90" x2="31.20" y2="715.70" stroke="#1a1a1a" stroke-width="1.2"/>
<text x="31.00" y="728.30" font-size="10.6" font-weight="bold" text-anchor="middle" textLength="5.90" lengthAdjust="spacingAndGlyphs" stroke="#1a1a1a" stroke-width="0.45">0</text>
<line x1="63.00" y1="710.90" x2="63.00" y2="715.70" stroke="#1a1a1a" stroke-width="1.2"/>
<text x="62.30" y="728.30" font-size="10.6" font-weight="bold" text-anchor="middle" textLength="5.90" lengthAdjust="spacingAndGlyphs" stroke="#1a1a1a" stroke-width="0.45">2</text>
<line x1="94.80" y1="710.90" x2="94.80" y2="715.70" stroke="#1a1a1a" stroke-width="1.2"/>
<text x="93.60" y="728.30" font-size="10.6" font-weight="bold" text-anchor="middle" textLength="5.90" lengthAdjust="spacingAndGlyphs" stroke="#1a1a1a" stroke-width="0.45">4</text>
<line x1="126.60" y1="710.90" x2="126.60" y2="715.70" stroke="#1a1a1a" stroke-width="1.2"/>
<text x="124.90" y="728.30" font-size="10.6" font-weight="bold" text-anchor="middle" textLength="5.90" lengthAdjust="spacingAndGlyphs" stroke="#1a1a1a" stroke-width="0.45">6</text>
<line x1="158.40" y1="710.90" x2="158.40" y2="715.70" stroke="#1a1a1a" stroke-width="1.2"/>
<text x="156.20" y="728.30" font-size="10.6" font-weight="bold" text-anchor="middle" textLength="5.90" lengthAdjust="spacingAndGlyphs" stroke="#1a1a1a" stroke-width="0.45">8</text>
<line x1="190.20" y1="710.90" x2="190.20" y2="715.70" stroke="#1a1a1a" stroke-width="1.2"/>
<text x="187.50" y="728.30" font-size="10.6" font-weight="bold" text-anchor="middle" textLength="11.00" lengthAdjust="spacingAndGlyphs" stroke="#1a1a1a" stroke-width="0.45">10</text>
<line x1="222.00" y1="710.90" x2="222.00" y2="715.70" stroke="#1a1a1a" stroke-width="1.2"/>
<text x="218.80" y="728.30" font-size="10.6" font-weight="bold" text-anchor="middle" textLength="11.00" lengthAdjust="spacingAndGlyphs" stroke="#1a1a1a" stroke-width="0.45">12</text>
<text x="28.70" y="744.60" font-size="11.5" textLength="198.30" lengthAdjust="spacingAndGlyphs" stroke="#1a1a1a" stroke-width="0.32">Time after endotoxin administration (h)</text>
<polyline points="31.20,710.30 47.10,705.60 55.05,685.20 63.00,608.20 78.90,623.90 126.60,709.60 174.30,710.40 222.00,710.40" fill="none" stroke="#1a1a1a" stroke-width="1.4" stroke-linejoin="round"/>
<polyline points="31.20,710.30 47.10,708.70 55.05,676.00 63.00,597.80 78.90,619.20 126.60,709.60 174.30,710.40 222.00,710.40" fill="none" stroke="#1a1a1a" stroke-width="1.4" stroke-linejoin="round"/>
<circle cx="31.20" cy="710.30" r="4.65" fill="#111"/>
<circle cx="47.10" cy="705.60" r="4.65" fill="#111"/>
<circle cx="55.05" cy="685.20" r="4.65" fill="#111"/>
<circle cx="63.00" cy="608.20" r="4.65" fill="#111"/>
<circle cx="78.90" cy="623.90" r="4.65" fill="#111"/>
<circle cx="126.60" cy="709.60" r="4.65" fill="#111"/>
<circle cx="174.30" cy="710.40" r="4.65" fill="#111"/>
<circle cx="222.00" cy="710.40" r="4.65" fill="#111"/>
<circle cx="31.20" cy="710.30" r="4.00" fill="#fff" stroke="#111" stroke-width="1.3"/>
<circle cx="47.10" cy="708.70" r="4.00" fill="#fff" stroke="#111" stroke-width="1.3"/>
<circle cx="55.05" cy="676.00" r="4.00" fill="#fff" stroke="#111" stroke-width="1.3"/>
<circle cx="63.00" cy="597.80" r="4.00" fill="#fff" stroke="#111" stroke-width="1.3"/>
<circle cx="78.90" cy="619.20" r="4.00" fill="#fff" stroke="#111" stroke-width="1.3"/>
<circle cx="126.60" cy="709.60" r="4.00" fill="#fff" stroke="#111" stroke-width="1.3"/>
<circle cx="174.30" cy="710.40" r="4.00" fill="#fff" stroke="#111" stroke-width="1.3"/>
<circle cx="222.00" cy="710.40" r="4.00" fill="#fff" stroke="#111" stroke-width="1.3"/>
<rect x="153.50" y="617.70" width="28.40" height="37.60" fill="#111"/>
<rect x="196.10" y="614.80" width="26.80" height="40.50" fill="#fff" stroke="#111" stroke-width="1.2"/>
<line x1="167.70" y1="584.20" x2="167.70" y2="617.70" stroke="#1a1a1a" stroke-width="1.2"/>
<line x1="159.45" y1="584.20" x2="175.95" y2="584.20" stroke="#1a1a1a" stroke-width="1.2"/>
<line x1="167.70" y1="617.70" x2="167.70" y2="634.50" stroke="#fff" stroke-width="1.2"/>
<line x1="159.45" y1="634.50" x2="175.95" y2="634.50" stroke="#fff" stroke-width="1.2"/>
<line x1="209.50" y1="604.30" x2="209.50" y2="623.50" stroke="#1a1a1a" stroke-width="1.2"/>
<line x1="201.25" y1="604.30" x2="217.75" y2="604.30" stroke="#1a1a1a" stroke-width="1.2"/>
<line x1="201.25" y1="623.50" x2="217.75" y2="623.50" stroke="#1a1a1a" stroke-width="1.2"/>
<line x1="147.20" y1="573.20" x2="147.20" y2="655.90" stroke="#1a1a1a" stroke-width="1.2"/>
<line x1="145.20" y1="655.30" x2="147.20" y2="655.30" stroke="#1a1a1a" stroke-width="1.2"/>
<text x="142.60" y="658.10" font-size="8.6" font-weight="bold" text-anchor="end" textLength="4.10" lengthAdjust="spacingAndGlyphs" stroke="#1a1a1a" stroke-width="0.32">0</text>
<line x1="145.20" y1="628.13" x2="147.20" y2="628.13" stroke="#1a1a1a" stroke-width="1.2"/>
<text x="142.60" y="630.93" font-size="8.6" font-weight="bold" text-anchor="end" textLength="12.30" lengthAdjust="spacingAndGlyphs" stroke="#1a1a1a" stroke-width="0.32">500</text>
<line x1="145.20" y1="600.97" x2="147.20" y2="600.97" stroke="#1a1a1a" stroke-width="1.2"/>
<text x="142.60" y="603.77" font-size="8.6" font-weight="bold" text-anchor="end" textLength="16.40" lengthAdjust="spacingAndGlyphs" stroke="#1a1a1a" stroke-width="0.32">1000</text>
<line x1="145.20" y1="573.80" x2="147.20" y2="573.80" stroke="#1a1a1a" stroke-width="1.2"/>
<text x="142.60" y="576.60" font-size="8.6" font-weight="bold" text-anchor="end" textLength="16.40" lengthAdjust="spacingAndGlyphs" stroke="#1a1a1a" stroke-width="0.32">1500</text>
<line x1="146.60" y1="655.30" x2="228.50" y2="655.30" stroke="#1a1a1a" stroke-width="1.2"/>
<line x1="167.70" y1="655.30" x2="167.70" y2="657.50" stroke="#1a1a1a" stroke-width="1.1"/>
<line x1="209.50" y1="655.30" x2="209.50" y2="657.50" stroke="#1a1a1a" stroke-width="1.1"/>
<text x="146.20" y="569.70" font-size="7.8" font-weight="bold" textLength="14.20" lengthAdjust="spacingAndGlyphs" stroke="#1a1a1a" stroke-width="0.32">AUC</text>
<text x="174.90" y="573.20" font-size="8.4" textLength="23.10" lengthAdjust="spacingAndGlyphs" fill="#222" stroke="#222" stroke-width="0.18">P=0.80</text>
<path d="M168.00,580.80 V575.00 H210.00 V580.80" fill="none" stroke="#222" stroke-width="1.1"/>
<text x="167.70" y="668.00" font-size="8.6" font-weight="bold" text-anchor="middle" textLength="37.40" lengthAdjust="spacingAndGlyphs" stroke="#1a1a1a" stroke-width="0.32">Lexaptepid</text>
<text x="209.50" y="668.00" font-size="8.6" font-weight="bold" text-anchor="middle" textLength="26.40" lengthAdjust="spacingAndGlyphs" stroke="#1a1a1a" stroke-width="0.32">Placebo</text>
<text x="251.60" y="519.10" font-size="16" font-weight="bold" stroke="#1a1a1a" stroke-width="0.45">F</text>
<text x="284.60" y="542.20" font-size="14.6" font-weight="bold" textLength="102.60" lengthAdjust="spacingAndGlyphs" stroke="#1a1a1a" stroke-width="0.45">IL-1RA (pg/mL)</text>
<line x1="286.60" y1="544.60" x2="286.60" y2="711.20" stroke="#1a1a1a" stroke-width="1.2"/>
<line x1="283.00" y1="710.60" x2="286.60" y2="710.60" stroke="#1a1a1a" stroke-width="1.2"/>
<text x="277.20" y="714.40" font-size="10.6" font-weight="bold" text-anchor="end" textLength="5.85" lengthAdjust="spacingAndGlyphs" stroke="#1a1a1a" stroke-width="0.45">0</text>
<line x1="283.00" y1="677.52" x2="286.60" y2="677.52" stroke="#1a1a1a" stroke-width="1.2"/>
<text x="277.20" y="682.12" font-size="10.6" font-weight="bold" text-anchor="end" textLength="18.15" lengthAdjust="spacingAndGlyphs" stroke="#1a1a1a" stroke-width="0.45">300</text>
<line x1="283.00" y1="644.44" x2="286.60" y2="644.44" stroke="#1a1a1a" stroke-width="1.2"/>
<text x="277.20" y="649.04" font-size="10.6" font-weight="bold" text-anchor="end" textLength="18.15" lengthAdjust="spacingAndGlyphs" stroke="#1a1a1a" stroke-width="0.45">600</text>
<line x1="283.00" y1="611.36" x2="286.60" y2="611.36" stroke="#1a1a1a" stroke-width="1.2"/>
<text x="277.20" y="615.96" font-size="10.6" font-weight="bold" text-anchor="end" textLength="18.15" lengthAdjust="spacingAndGlyphs" stroke="#1a1a1a" stroke-width="0.45">900</text>
<line x1="283.00" y1="578.28" x2="286.60" y2="578.28" stroke="#1a1a1a" stroke-width="1.2"/>
<text x="277.20" y="582.88" font-size="10.6" font-weight="bold" text-anchor="end" textLength="24.30" lengthAdjust="spacingAndGlyphs" stroke="#1a1a1a" stroke-width="0.45">1200</text>
<line x1="283.00" y1="545.20" x2="286.60" y2="545.20" stroke="#1a1a1a" stroke-width="1.2"/>
<text x="277.20" y="549.80" font-size="10.6" font-weight="bold" text-anchor="end" textLength="24.30" lengthAdjust="spacingAndGlyphs" stroke="#1a1a1a" stroke-width="0.45">1500</text>
<line x1="286.00" y1="710.60" x2="478.00" y2="710.60" stroke="#1a1a1a" stroke-width="1.2"/>
<line x1="286.60" y1="710.60" x2="286.60" y2="715.40" stroke="#1a1a1a" stroke-width="1.2"/>
<text x="287.20" y="729.60" font-size="10.6" font-weight="bold" text-anchor="middle" textLength="5.90" lengthAdjust="spacingAndGlyphs" stroke="#1a1a1a" stroke-width="0.45">0</text>
<line x1="318.33" y1="710.60" x2="318.33" y2="715.40" stroke="#1a1a1a" stroke-width="1.2"/>
<text x="318.46" y="729.60" font-size="10.6" font-weight="bold" text-anchor="middle" textLength="5.90" lengthAdjust="spacingAndGlyphs" stroke="#1a1a1a" stroke-width="0.45">2</text>
<line x1="350.07" y1="710.60" x2="350.07" y2="715.40" stroke="#1a1a1a" stroke-width="1.2"/>
<text x="349.72" y="729.60" font-size="10.6" font-weight="bold" text-anchor="middle" textLength="5.90" lengthAdjust="spacingAndGlyphs" stroke="#1a1a1a" stroke-width="0.45">4</text>
<line x1="381.80" y1="710.60" x2="381.80" y2="715.40" stroke="#1a1a1a" stroke-width="1.2"/>
<text x="380.98" y="729.60" font-size="10.6" font-weight="bold" text-anchor="middle" textLength="5.90" lengthAdjust="spacingAndGlyphs" stroke="#1a1a1a" stroke-width="0.45">6</text>
<line x1="413.53" y1="710.60" x2="413.53" y2="715.40" stroke="#1a1a1a" stroke-width="1.2"/>
<text x="412.24" y="729.60" font-size="10.6" font-weight="bold" text-anchor="middle" textLength="5.90" lengthAdjust="spacingAndGlyphs" stroke="#1a1a1a" stroke-width="0.45">8</text>
<line x1="445.27" y1="710.60" x2="445.27" y2="715.40" stroke="#1a1a1a" stroke-width="1.2"/>
<text x="443.50" y="729.60" font-size="10.6" font-weight="bold" text-anchor="middle" textLength="11.00" lengthAdjust="spacingAndGlyphs" stroke="#1a1a1a" stroke-width="0.45">10</text>
<line x1="477.00" y1="710.60" x2="477.00" y2="715.40" stroke="#1a1a1a" stroke-width="1.2"/>
<text x="474.76" y="729.60" font-size="10.6" font-weight="bold" text-anchor="middle" textLength="11.00" lengthAdjust="spacingAndGlyphs" stroke="#1a1a1a" stroke-width="0.45">12</text>
<text x="283.50" y="744.50" font-size="11.5" textLength="197.80" lengthAdjust="spacingAndGlyphs" stroke="#1a1a1a" stroke-width="0.32">Time after endotoxin administration (h)</text>
<polyline points="286.60,710.00 302.47,709.50 310.40,709.10 318.33,702.50 334.20,591.60 381.80,683.40 429.40,698.20 477.00,705.60" fill="none" stroke="#1a1a1a" stroke-width="1.4" stroke-linejoin="round"/>
<polyline points="286.60,710.00 302.47,709.50 310.40,705.80 318.33,702.20 334.20,611.80 381.80,682.30 429.40,698.00 477.00,705.50" fill="none" stroke="#1a1a1a" stroke-width="1.4" stroke-linejoin="round"/>
<circle cx="286.60" cy="710.00" r="4.65" fill="#111"/>
<circle cx="302.47" cy="709.50" r="4.65" fill="#111"/>
<circle cx="310.40" cy="709.10" r="4.65" fill="#111"/>
<circle cx="318.33" cy="702.50" r="4.65" fill="#111"/>
<circle cx="334.20" cy="591.60" r="4.65" fill="#111"/>
<circle cx="381.80" cy="683.40" r="4.65" fill="#111"/>
<circle cx="429.40" cy="698.20" r="4.65" fill="#111"/>
<circle cx="477.00" cy="705.60" r="4.65" fill="#111"/>
<circle cx="286.60" cy="710.00" r="4.00" fill="#fff" stroke="#111" stroke-width="1.3"/>
<circle cx="302.47" cy="709.50" r="4.00" fill="#fff" stroke="#111" stroke-width="1.3"/>
<circle cx="310.40" cy="705.80" r="4.00" fill="#fff" stroke="#111" stroke-width="1.3"/>
<circle cx="318.33" cy="702.20" r="4.00" fill="#fff" stroke="#111" stroke-width="1.3"/>
<circle cx="334.20" cy="611.80" r="4.00" fill="#fff" stroke="#111" stroke-width="1.3"/>
<circle cx="381.80" cy="682.30" r="4.00" fill="#fff" stroke="#111" stroke-width="1.3"/>
<circle cx="429.40" cy="698.00" r="4.00" fill="#fff" stroke="#111" stroke-width="1.3"/>
<circle cx="477.00" cy="705.50" r="4.00" fill="#fff" stroke="#111" stroke-width="1.3"/>
<rect x="415.40" y="591.20" width="28.40" height="63.40" fill="#111"/>
<rect x="457.50" y="602.10" width="27.20" height="52.50" fill="#fff" stroke="#111" stroke-width="1.2"/>
<line x1="429.60" y1="583.50" x2="429.60" y2="591.20" stroke="#1a1a1a" stroke-width="1.2"/>
<line x1="421.35" y1="583.50" x2="437.85" y2="583.50" stroke="#1a1a1a" stroke-width="1.2"/>
<line x1="429.60" y1="591.20" x2="429.60" y2="615.80" stroke="#fff" stroke-width="1.2"/>
<line x1="421.35" y1="615.80" x2="437.85" y2="615.80" stroke="#fff" stroke-width="1.2"/>
<line x1="471.10" y1="585.80" x2="471.10" y2="606.20" stroke="#1a1a1a" stroke-width="1.2"/>
<line x1="462.85" y1="585.80" x2="479.35" y2="585.80" stroke="#1a1a1a" stroke-width="1.2"/>
<line x1="462.85" y1="606.20" x2="479.35" y2="606.20" stroke="#1a1a1a" stroke-width="1.2"/>
<line x1="409.20" y1="573.20" x2="409.20" y2="655.20" stroke="#1a1a1a" stroke-width="1.2"/>
<line x1="407.20" y1="654.60" x2="409.20" y2="654.60" stroke="#1a1a1a" stroke-width="1.2"/>
<text x="404.60" y="657.40" font-size="8.6" font-weight="bold" text-anchor="end" textLength="4.10" lengthAdjust="spacingAndGlyphs" stroke="#1a1a1a" stroke-width="0.32">0</text>
<line x1="407.20" y1="627.67" x2="409.20" y2="627.67" stroke="#1a1a1a" stroke-width="1.2"/>
<text x="404.60" y="630.47" font-size="8.6" font-weight="bold" text-anchor="end" textLength="16.40" lengthAdjust="spacingAndGlyphs" stroke="#1a1a1a" stroke-width="0.32">2000</text>
<line x1="407.20" y1="600.73" x2="409.20" y2="600.73" stroke="#1a1a1a" stroke-width="1.2"/>
<text x="404.60" y="603.53" font-size="8.6" font-weight="bold" text-anchor="end" textLength="16.40" lengthAdjust="spacingAndGlyphs" stroke="#1a1a1a" stroke-width="0.32">4000</text>
<line x1="407.20" y1="573.80" x2="409.20" y2="573.80" stroke="#1a1a1a" stroke-width="1.2"/>
<text x="404.60" y="576.60" font-size="8.6" font-weight="bold" text-anchor="end" textLength="16.40" lengthAdjust="spacingAndGlyphs" stroke="#1a1a1a" stroke-width="0.32">6000</text>
<line x1="408.60" y1="654.60" x2="491.50" y2="654.60" stroke="#1a1a1a" stroke-width="1.2"/>
<line x1="429.60" y1="654.60" x2="429.60" y2="656.80" stroke="#1a1a1a" stroke-width="1.1"/>
<line x1="471.10" y1="654.60" x2="471.10" y2="656.80" stroke="#1a1a1a" stroke-width="1.1"/>
<text x="408.20" y="569.20" font-size="7.8" font-weight="bold" textLength="14.20" lengthAdjust="spacingAndGlyphs" stroke="#1a1a1a" stroke-width="0.32">AUC</text>
<text x="437.30" y="571.50" font-size="8.4" textLength="23.10" lengthAdjust="spacingAndGlyphs" fill="#222" stroke="#222" stroke-width="0.18">P=0.75</text>
<path d="M429.70,579.60 V573.80 H471.50 V579.60" fill="none" stroke="#222" stroke-width="1.1"/>
<text x="429.60" y="668.50" font-size="8.6" font-weight="bold" text-anchor="middle" textLength="37.40" lengthAdjust="spacingAndGlyphs" stroke="#1a1a1a" stroke-width="0.32">Lexaptepid</text>
<text x="471.10" y="668.50" font-size="8.6" font-weight="bold" text-anchor="middle" textLength="26.40" lengthAdjust="spacingAndGlyphs" stroke="#1a1a1a" stroke-width="0.32">Placebo</text>
</svg>
</body></html>
